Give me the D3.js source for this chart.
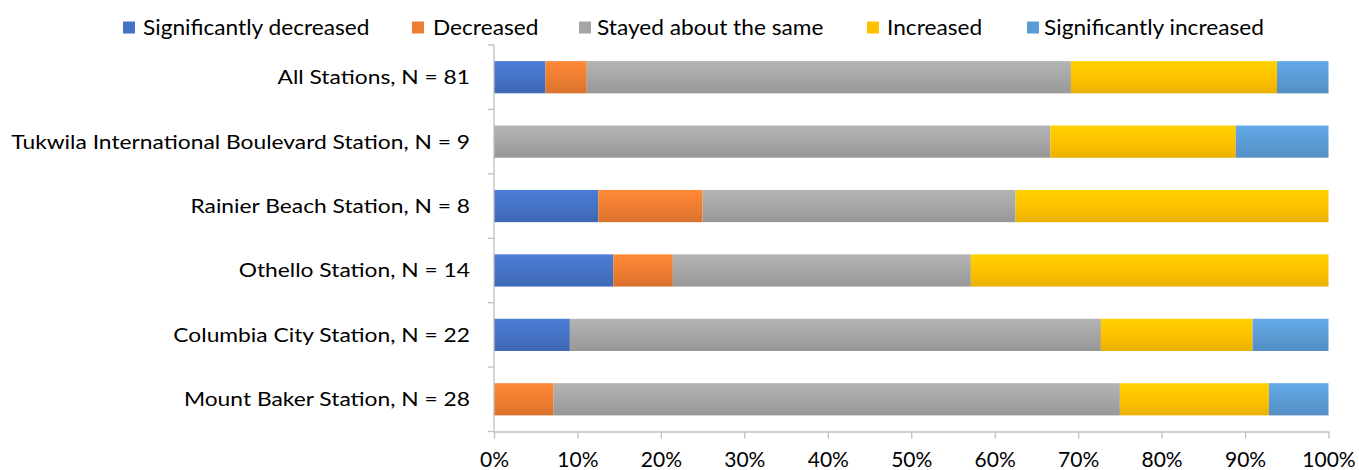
<!DOCTYPE html>
<html>
<head>
<meta charset="utf-8">
<script src="https://cdn.jsdelivr.net/npm/d3@7"></script>
<style>
  html, body { margin: 0; padding: 0; background: #fff; }
  svg { display: block; }
  text { font-family: "Lato", "Liberation Sans", sans-serif; fill: #000; }
</style>
</head>
<body>
<svg id="chart" width="1359" height="470"></svg>
<script>
// Station categories, top to bottom
const stations = [
  "All Stations, N = 81",
  "Tukwila International Boulevard Station, N = 9",
  "Rainier Beach Station, N = 8",
  "Othello Station, N = 14",
  "Columbia City Station, N = 22",
  "Mount Baker Station, N = 28"
];
const sampleSizes = [81, 9, 8, 14, 22, 28];

// Response series (counts of respondents per station)
const seriesNames = [
  "Significantly decreased",
  "Decreased",
  "Stayed about the same",
  "Increased",
  "Significantly increased"
];
const sigDecreased = [5, 0, 1, 2, 2, 0];
const decreased    = [4, 0, 1, 1, 0, 2];
const stayedSame   = [47, 6, 3, 5, 14, 19];
const increased    = [20, 2, 3, 6, 4, 5];
const sigIncreased = [5, 1, 0, 0, 2, 2];

const tickLabels = ["0%", "10%", "20%", "30%", "40%", "50%", "60%", "70%", "80%", "90%", "100%"];

const seriesColors = ["#4472C4", "#ED7D31", "#A5A5A5", "#FFC000", "#5B9BD5"];

// Build the table of shares for stacking
const counts = [sigDecreased, decreased, stayedSame, increased, sigIncreased];
const rows = stations.map((s, i) => {
  const r = { station: s };
  seriesNames.forEach((n, k) => { r[n] = counts[k][i] / sampleSizes[i]; });
  return r;
});

const svg = d3.select("#chart");
const margin = { left: 494, right: 30.5, top: 45, bottom: 38.5 };
const W = 1359, H = 470;

const x = d3.scaleLinear().domain([0, 1]).range([margin.left, W - margin.right]);
const y = d3.scaleBand().domain(stations).range([margin.top, H - margin.bottom]).paddingInner(0.5).paddingOuter(0.25);

// Vertical gradients for bar fills
const defs = svg.append("defs");
seriesColors.forEach((c, i) => {
  const g = defs.append("linearGradient").attr("id", "grad" + i)
    .attr("x1", 0).attr("y1", 0).attr("x2", 0).attr("y2", 1);
  g.append("stop").attr("offset", "0%").attr("stop-color", d3.color(c).brighter(0.25));
  g.append("stop").attr("offset", "55%").attr("stop-color", c);
  g.append("stop").attr("offset", "100%").attr("stop-color", d3.color(c).darker(0.25));
});

const stack = d3.stack().keys(seriesNames);
const stacked = stack(rows);

svg.append("g").selectAll("g").data(stacked).join("g")
  .attr("fill", (d, i) => `url(#grad${i})`)
  .selectAll("rect").data(d => d).join("rect")
  .attr("x", d => x(d[0]))
  .attr("width", d => Math.max(0, x(d[1]) - x(d[0])))
  .attr("y", d => y(d.data.station))
  .attr("height", y.bandwidth());

// Axes
const axisColor = "#BFBFBF";
const yAxisG = svg.append("g");
yAxisG.append("line")
  .attr("x1", margin.left).attr("x2", margin.left)
  .attr("y1", margin.top).attr("y2", H - margin.bottom)
  .attr("stroke", axisColor).attr("stroke-width", 1.3);
// category boundary ticks
d3.range(stations.length + 1).forEach(i => {
  const yy = margin.top + i * (H - margin.bottom - margin.top) / stations.length;
  yAxisG.append("line")
    .attr("x1", margin.left - 6).attr("x2", margin.left)
    .attr("y1", yy).attr("y2", yy)
    .attr("stroke", axisColor).attr("stroke-width", 1.3);
});
// category labels (slightly widened glyphs)
yAxisG.selectAll("text.cat").data(stations).join("text")
  .attr("class", "cat")
  .attr("transform", d => `translate(470,${y(d) + y.bandwidth() / 2}) scale(1.14,1)`)
  .attr("dy", "0.35em")
  .attr("text-anchor", "end")
  .style("font-size", "20px")
  .text(d => d);

const xAxis = d3.axisBottom(x)
  .tickValues(d3.range(0, 1.0001, 0.1))
  .tickFormat((d, i) => tickLabels[i])
  .tickSize(7).tickSizeOuter(0).tickPadding(14);
const xg = svg.append("g")
  .attr("transform", `translate(0,${H - margin.bottom})`)
  .call(xAxis);
xg.select(".domain").attr("stroke", axisColor).attr("stroke-width", 1.3);
xg.selectAll(".tick line").attr("stroke", axisColor).attr("stroke-width", 1.3);
xg.selectAll(".tick text").style("font-size", "21px").style("font-family", "Lato, 'Liberation Sans', sans-serif").attr("fill", "#000");

// Legend
const legendBoxX = [123, 412, 579, 867, 1027];
const legendTextX = [143, 433, 597, 887, 1044];
const lg = svg.append("g");
seriesNames.forEach((n, i) => {
  lg.append("rect")
    .attr("x", legendBoxX[i]).attr("y", 21.5)
    .attr("width", 12).attr("height", 12)
    .attr("fill", seriesColors[i]);
  lg.append("text")
    .attr("transform", `translate(${legendTextX[i]},27.5) scale(1.08,1)`)
    .attr("dy", "0.35em")
    .style("font-size", "21px")
    .text(n);
});
</script>
</body>
</html>
